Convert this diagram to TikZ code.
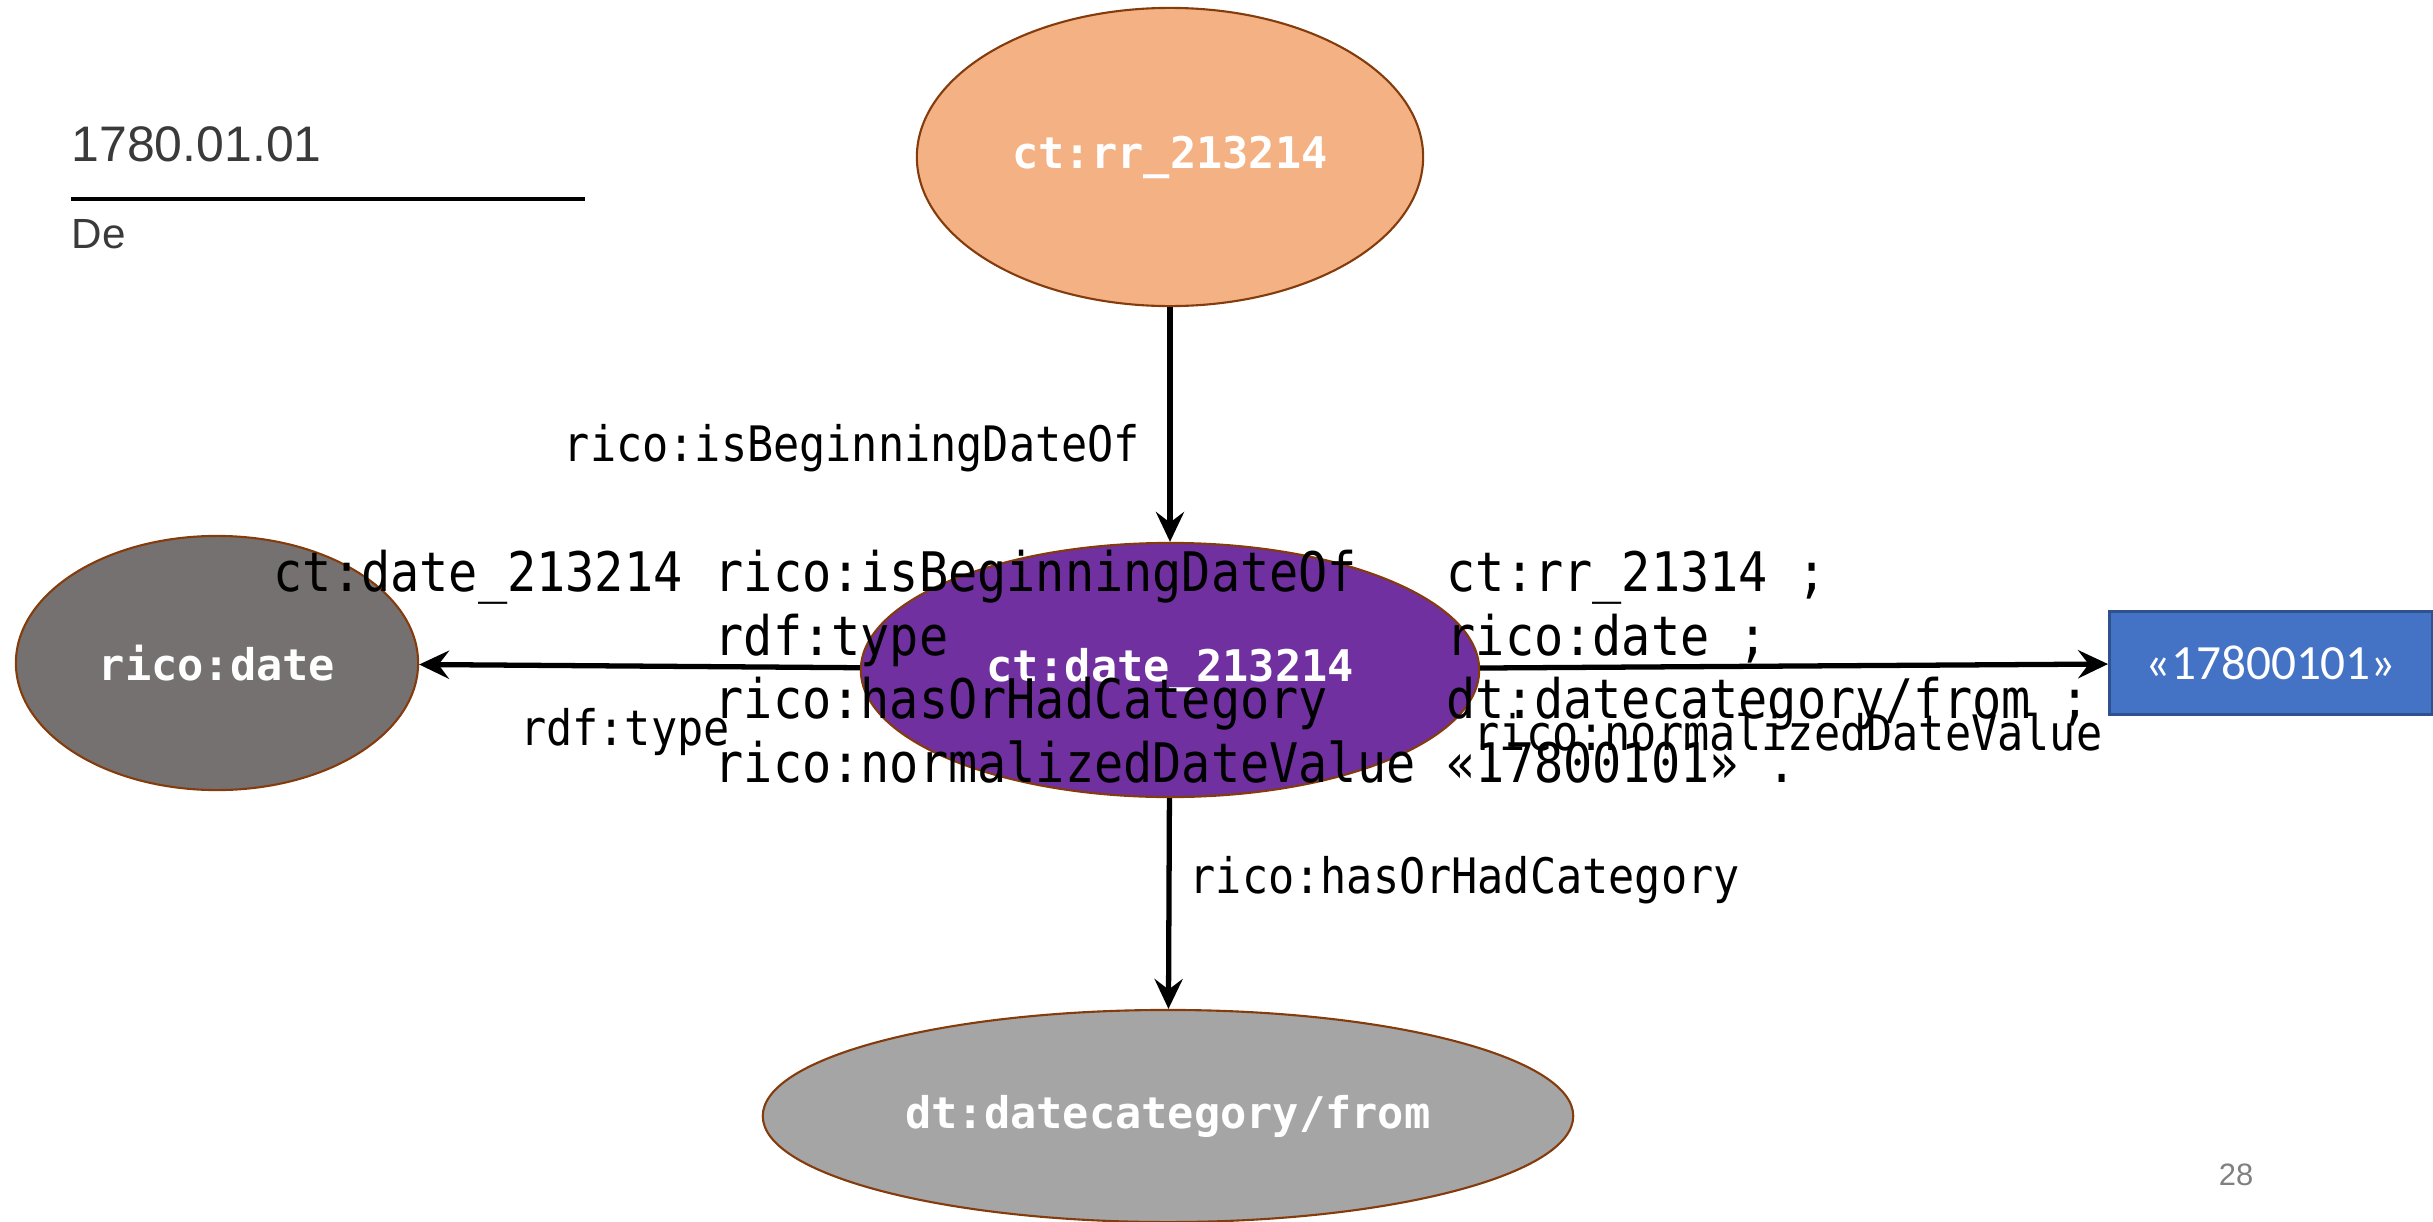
\documentclass[tikz,border=0pt]{standalone}
\usepackage{fontspec}
\setmainfont{Liberation Sans}
\newfontfamily\turtlefont[FakeStretch=0.89]{DejaVu Sans Mono}
\newfontfamily\resfont{DejaVu Sans Mono}
\newfontfamily\litfont{Carlito}
\usetikzlibrary{arrows.meta,shapes.geometric}
\definecolor{rimbrown}{HTML}{843C0C}
\definecolor{rrfill}{HTML}{F4B183}
\definecolor{datefill}{HTML}{7030A0}
\definecolor{typefill}{HTML}{767171}
\definecolor{catfill}{HTML}{A5A5A5}
\definecolor{litfill}{HTML}{4472C4}
\definecolor{litrim}{HTML}{2F528F}
\definecolor{headgray}{HTML}{3A3A3A}
\tikzset{
  res/.style={ellipse, draw=rimbrown, line width=0.6pt, inner sep=0pt, text=white,
    font=\resfont\bfseries\fontsize{12.4}{14}\selectfont},
  rel/.style={-{Stealth[length=8.5pt,width=8pt,inset=3pt]}, line width=1.5pt},
  rellabel/.style={inner sep=0pt, font=\turtlefont\fontsize{13.9}{16}\selectfont},
  ttl/.style={anchor=base west, inner sep=0pt, font=\turtlefont\fontsize{15.5}{18}\selectfont},
}
\begin{document}
\begin{tikzpicture}[x=0.01cm,y=-0.01cm]
\useasboundingbox (0,0) rectangle (2433,1221);
% slide heading
\node[anchor=base west, inner sep=0pt, text=headgray, font=\fontsize{14.2}{16}\selectfont] (datestr) at (71,161) {1780.01.01}; % date string
\coordinate (rulea) at (71,199);
\coordinate (ruleb) at (585,199);
\draw[line width=1pt] (rulea) -- (ruleb);
\node[anchor=base west, inner sep=0pt, text=headgray, font=\fontsize{12}{14}\selectfont] (dekind) at (71,248) {De};
% resources
\node[res, fill=rrfill, minimum width=5.06cm, minimum height=2.98cm] (rr) at (1170,157) {ct:rr\_213214}; % record resource
\node[res, fill=datefill, minimum width=6.18cm, minimum height=2.54cm] (date) at (1170,670) {ct:date\_213214}; % date
\node[res, fill=typefill, minimum width=4.02cm, minimum height=2.54cm] (ricodate) at (217,663) {rico:date}; % class
\node[res, fill=catfill, minimum width=8.1cm, minimum height=2.12cm] (cat) at (1168,1116) {dt:datecategory/from}; % category
\node[draw=litrim, fill=litfill, line width=0.8pt, minimum width=3.23cm, minimum height=1.03cm, text=white,
  font=\litfont\fontsize{14}{16}\selectfont] (value) at (2271,663) {«17800101»}; % literal
% relations
\draw[rel] (rr) -- (date);
\draw[rel] (date) -- (ricodate);
\draw[rel] (date) -- (value);
\draw[rel] (date) -- (cat);
\node[rellabel] (lbegin) at (852,448) {rico:isBeginningDateOf};
\node[rellabel] (ltype) at (625,732) {rdf:type};
\node[rellabel] (lvalue) at (1788,732) {rico:normalizedDateValue};
\node[rellabel, anchor=west] (lcat) at (1189,880) {rico:hasOrHadCategory};
% turtle
\node[ttl] (tsubj) at (273,591) {ct:date\_213214};
\node[ttl] (tpa) at (714,591) {rico:isBeginningDateOf};
\node[ttl] (toa) at (1446,591) {ct:rr\_21314 ;};
\node[ttl] (tpb) at (714,655) {rdf:type};
\node[ttl] (tob) at (1446,655) {rico:date ;};
\node[ttl] (tpc) at (714,718) {rico:hasOrHadCategory};
\node[ttl] (toc) at (1446,718) {dt:datecategory/from ;};
\node[ttl] (tpd) at (714,782) {rico:normalizedDateValue};
\node[ttl] (tod) at (1446,782) {«17800101» .};
% page number
\node[text=gray, font=\fontsize{8.8}{10}\selectfont] (pageno) at (2236,1175) {28};
\end{tikzpicture}
\end{document}
